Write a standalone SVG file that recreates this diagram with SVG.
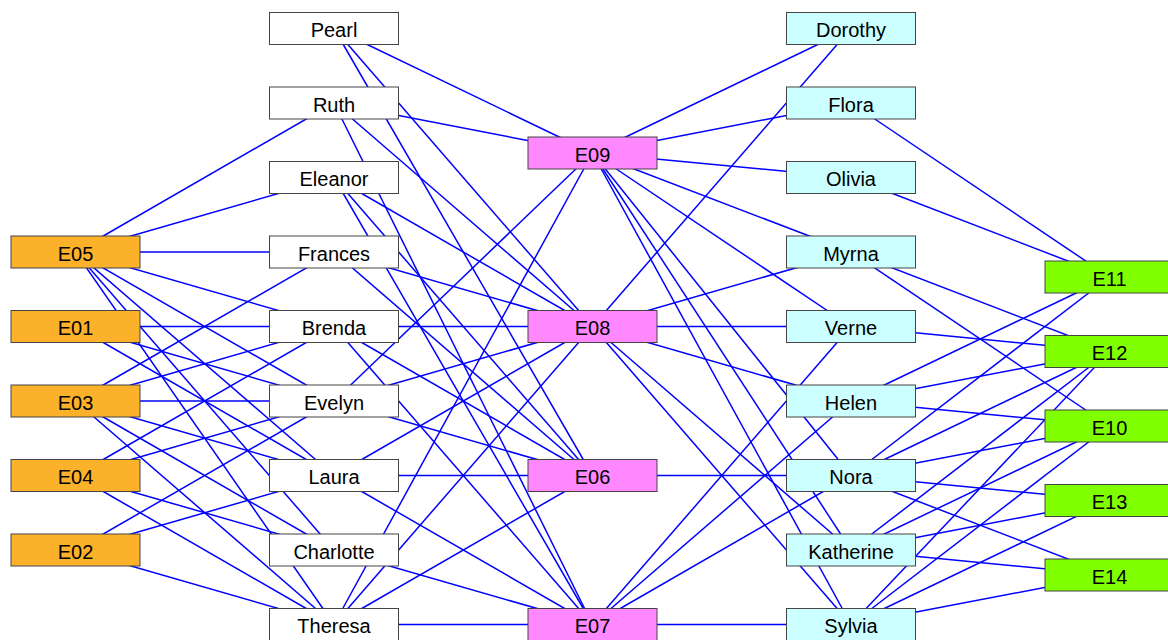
<svg xmlns="http://www.w3.org/2000/svg" width="1168" height="640" viewBox="0 0 1168 640">
<style>
.e line{stroke:#0000ff;stroke-width:1.5;fill:none}
.n rect{stroke:#444;stroke-width:1}
.ev rect{fill:#fcb12a}
.w rect{fill:#ffffff}
.m rect{fill:#ff88ff}
.c rect{fill:#ccffff}
.g rect{fill:#80ff00}
text{font-family:"Liberation Sans",Arial,sans-serif;font-size:20px;fill:#000;text-anchor:middle}
</style>
<g id="connectors" class="e">
<!-- Evelyn -->
<line x1="334" y1="401" x2="75.5" y2="326.5"/>
<line x1="334" y1="401" x2="75.5" y2="550"/>
<line x1="334" y1="401" x2="75.5" y2="401"/>
<line x1="334" y1="401" x2="75.5" y2="475.5"/>
<line x1="334" y1="401" x2="75.5" y2="252"/>
<line x1="334" y1="401" x2="592.5" y2="475.5"/>
<line x1="334" y1="401" x2="592.5" y2="326.5"/>
<line x1="334" y1="401" x2="592.5" y2="153"/>
<!-- Laura -->
<line x1="334" y1="475.5" x2="75.5" y2="326.5"/>
<line x1="334" y1="475.5" x2="75.5" y2="550"/>
<line x1="334" y1="475.5" x2="75.5" y2="401"/>
<line x1="334" y1="475.5" x2="75.5" y2="252"/>
<line x1="334" y1="475.5" x2="592.5" y2="475.5"/>
<line x1="334" y1="475.5" x2="592.5" y2="624.5"/>
<line x1="334" y1="475.5" x2="592.5" y2="326.5"/>
<!-- Theresa -->
<line x1="334" y1="624.5" x2="75.5" y2="550"/>
<line x1="334" y1="624.5" x2="75.5" y2="401"/>
<line x1="334" y1="624.5" x2="75.5" y2="475.5"/>
<line x1="334" y1="624.5" x2="75.5" y2="252"/>
<line x1="334" y1="624.5" x2="592.5" y2="475.5"/>
<line x1="334" y1="624.5" x2="592.5" y2="624.5"/>
<line x1="334" y1="624.5" x2="592.5" y2="326.5"/>
<line x1="334" y1="624.5" x2="592.5" y2="153"/>
<!-- Brenda -->
<line x1="334" y1="326.5" x2="75.5" y2="326.5"/>
<line x1="334" y1="326.5" x2="75.5" y2="401"/>
<line x1="334" y1="326.5" x2="75.5" y2="475.5"/>
<line x1="334" y1="326.5" x2="75.5" y2="252"/>
<line x1="334" y1="326.5" x2="592.5" y2="475.5"/>
<line x1="334" y1="326.5" x2="592.5" y2="624.5"/>
<line x1="334" y1="326.5" x2="592.5" y2="326.5"/>
<!-- Charlotte -->
<line x1="334" y1="550" x2="75.5" y2="401"/>
<line x1="334" y1="550" x2="75.5" y2="475.5"/>
<line x1="334" y1="550" x2="75.5" y2="252"/>
<line x1="334" y1="550" x2="592.5" y2="624.5"/>
<!-- Frances -->
<line x1="334" y1="252" x2="75.5" y2="401"/>
<line x1="334" y1="252" x2="75.5" y2="252"/>
<line x1="334" y1="252" x2="592.5" y2="475.5"/>
<line x1="334" y1="252" x2="592.5" y2="326.5"/>
<!-- Eleanor -->
<line x1="334" y1="177.5" x2="75.5" y2="252"/>
<line x1="334" y1="177.5" x2="592.5" y2="475.5"/>
<line x1="334" y1="177.5" x2="592.5" y2="624.5"/>
<line x1="334" y1="177.5" x2="592.5" y2="326.5"/>
<!-- Pearl -->
<line x1="334" y1="28.5" x2="592.5" y2="475.5"/>
<line x1="334" y1="28.5" x2="592.5" y2="326.5"/>
<line x1="334" y1="28.5" x2="592.5" y2="153"/>
<!-- Ruth -->
<line x1="334" y1="103" x2="75.5" y2="252"/>
<line x1="334" y1="103" x2="592.5" y2="624.5"/>
<line x1="334" y1="103" x2="592.5" y2="326.5"/>
<line x1="334" y1="103" x2="592.5" y2="153"/>
<!-- Verne -->
<line x1="851" y1="326.5" x2="592.5" y2="624.5"/>
<line x1="851" y1="326.5" x2="592.5" y2="326.5"/>
<line x1="851" y1="326.5" x2="592.5" y2="153"/>
<line x1="851" y1="326.5" x2="1109.5" y2="351.5"/>
<!-- Myrna -->
<line x1="851" y1="252" x2="592.5" y2="326.5"/>
<line x1="851" y1="252" x2="592.5" y2="153"/>
<line x1="851" y1="252" x2="1109.5" y2="426"/>
<line x1="851" y1="252" x2="1109.5" y2="351.5"/>
<!-- Katherine -->
<line x1="851" y1="550" x2="592.5" y2="326.5"/>
<line x1="851" y1="550" x2="592.5" y2="153"/>
<line x1="851" y1="550" x2="1109.5" y2="426"/>
<line x1="851" y1="550" x2="1109.5" y2="351.5"/>
<line x1="851" y1="550" x2="1109.5" y2="500.5"/>
<line x1="851" y1="550" x2="1109.5" y2="575"/>
<!-- Sylvia -->
<line x1="851" y1="624.5" x2="592.5" y2="624.5"/>
<line x1="851" y1="624.5" x2="592.5" y2="326.5"/>
<line x1="851" y1="624.5" x2="592.5" y2="153"/>
<line x1="851" y1="624.5" x2="1109.5" y2="426"/>
<line x1="851" y1="624.5" x2="1109.5" y2="351.5"/>
<line x1="851" y1="624.5" x2="1109.5" y2="500.5"/>
<line x1="851" y1="624.5" x2="1109.5" y2="575"/>
<!-- Nora -->
<line x1="851" y1="475.5" x2="592.5" y2="475.5"/>
<line x1="851" y1="475.5" x2="592.5" y2="624.5"/>
<line x1="851" y1="475.5" x2="592.5" y2="153"/>
<line x1="851" y1="475.5" x2="1109.5" y2="426"/>
<line x1="851" y1="475.5" x2="1109.5" y2="277"/>
<line x1="851" y1="475.5" x2="1109.5" y2="351.5"/>
<line x1="851" y1="475.5" x2="1109.5" y2="500.5"/>
<line x1="851" y1="475.5" x2="1109.5" y2="575"/>
<!-- Helen -->
<line x1="851" y1="401" x2="592.5" y2="624.5"/>
<line x1="851" y1="401" x2="592.5" y2="326.5"/>
<line x1="851" y1="401" x2="1109.5" y2="426"/>
<line x1="851" y1="401" x2="1109.5" y2="277"/>
<line x1="851" y1="401" x2="1109.5" y2="351.5"/>
<!-- Dorothy -->
<line x1="851" y1="28.5" x2="592.5" y2="326.5"/>
<line x1="851" y1="28.5" x2="592.5" y2="153"/>
<!-- Olivia -->
<line x1="851" y1="177.5" x2="592.5" y2="153"/>
<line x1="851" y1="177.5" x2="1109.5" y2="277"/>
<!-- Flora -->
<line x1="851" y1="103" x2="592.5" y2="153"/>
<line x1="851" y1="103" x2="1109.5" y2="277"/>
</g>
<g class="n ev">
<g id="E05"><rect x="11" y="236" width="129" height="32"/><text x="75.5" y="260.5">E05</text></g>
<g id="E01"><rect x="11" y="310.5" width="129" height="32"/><text x="75.5" y="335">E01</text></g>
<g id="E03"><rect x="11" y="385" width="129" height="32"/><text x="75.5" y="409.5">E03</text></g>
<g id="E04"><rect x="11" y="459.5" width="129" height="32"/><text x="75.5" y="484">E04</text></g>
<g id="E02"><rect x="11" y="534" width="129" height="32"/><text x="75.5" y="558.5">E02</text></g>
</g>
<g class="n w">
<g id="Pearl"><rect x="269.5" y="12.5" width="129" height="32"/><text x="334" y="37">Pearl</text></g>
<g id="Ruth"><rect x="269.5" y="87" width="129" height="32"/><text x="334" y="111.5">Ruth</text></g>
<g id="Eleanor"><rect x="269.5" y="161.5" width="129" height="32"/><text x="334" y="186">Eleanor</text></g>
<g id="Frances"><rect x="269.5" y="236" width="129" height="32"/><text x="334" y="260.5">Frances</text></g>
<g id="Brenda"><rect x="269.5" y="310.5" width="129" height="32"/><text x="334" y="335">Brenda</text></g>
<g id="Evelyn"><rect x="269.5" y="385" width="129" height="32"/><text x="334" y="409.5">Evelyn</text></g>
<g id="Laura"><rect x="269.5" y="459.5" width="129" height="32"/><text x="334" y="484">Laura</text></g>
<g id="Charlotte"><rect x="269.5" y="534" width="129" height="32"/><text x="334" y="558.5">Charlotte</text></g>
<g id="Theresa"><rect x="269.5" y="608.5" width="129" height="32"/><text x="334" y="633">Theresa</text></g>
</g>
<g class="n m">
<g id="E09"><rect x="528" y="137" width="129" height="32"/><text x="592.5" y="161.5">E09</text></g>
<g id="E08"><rect x="528" y="310.5" width="129" height="32"/><text x="592.5" y="335">E08</text></g>
<g id="E06"><rect x="528" y="459.5" width="129" height="32"/><text x="592.5" y="484">E06</text></g>
<g id="E07"><rect x="528" y="608.5" width="129" height="32"/><text x="592.5" y="633">E07</text></g>
</g>
<g class="n c">
<g id="Dorothy"><rect x="786.5" y="12.5" width="129" height="32"/><text x="851" y="37">Dorothy</text></g>
<g id="Flora"><rect x="786.5" y="87" width="129" height="32"/><text x="851" y="111.5">Flora</text></g>
<g id="Olivia"><rect x="786.5" y="161.5" width="129" height="32"/><text x="851" y="186">Olivia</text></g>
<g id="Myrna"><rect x="786.5" y="236" width="129" height="32"/><text x="851" y="260.5">Myrna</text></g>
<g id="Verne"><rect x="786.5" y="310.5" width="129" height="32"/><text x="851" y="335">Verne</text></g>
<g id="Helen"><rect x="786.5" y="385" width="129" height="32"/><text x="851" y="409.5">Helen</text></g>
<g id="Nora"><rect x="786.5" y="459.5" width="129" height="32"/><text x="851" y="484">Nora</text></g>
<g id="Katherine"><rect x="786.5" y="534" width="129" height="32"/><text x="851" y="558.5">Katherine</text></g>
<g id="Sylvia"><rect x="786.5" y="608.5" width="129" height="32"/><text x="851" y="633">Sylvia</text></g>
</g>
<g class="n g">
<g id="E11"><rect x="1045" y="261" width="129" height="32"/><text x="1109.5" y="285.5">E11</text></g>
<g id="E12"><rect x="1045" y="335.5" width="129" height="32"/><text x="1109.5" y="360">E12</text></g>
<g id="E10"><rect x="1045" y="410" width="129" height="32"/><text x="1109.5" y="434.5">E10</text></g>
<g id="E13"><rect x="1045" y="484.5" width="129" height="32"/><text x="1109.5" y="509">E13</text></g>
<g id="E14"><rect x="1045" y="559" width="129" height="32"/><text x="1109.5" y="583.5">E14</text></g>
</g>
</svg>
